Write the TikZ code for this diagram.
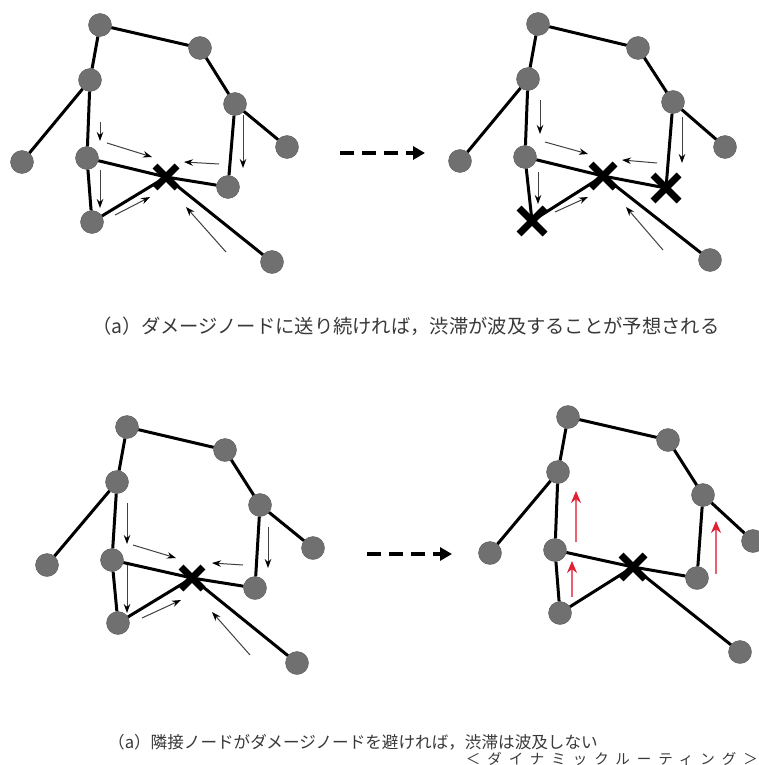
\documentclass[tikz,border=0pt]{standalone}
\usepackage{fontspec}
\newfontfamily\jp{Noto Sans CJK JP}
\newfontfamily\jpwide[LetterSpace=48]{Noto Sans CJK JP}
\usetikzlibrary{arrows.meta,calc}
\definecolor{nodegray}{RGB}{112,112,112}
\definecolor{redarrow}{RGB}{225,30,50}
\tikzset{
  nd/.style={circle,fill=nodegray,draw=nodegray!80!black,line width=0.4pt,minimum size=23pt,inner sep=0pt},
  lnk/.style={line width=3pt,black},
  flow/.style={line width=1pt,black!75,-{Stealth[length=9pt,width=6.5pt,black]}},
  redflow/.style={line width=1.5pt,redarrow!70,-{Stealth[length=12pt,width=10pt,redarrow]}},
  bigarrow/.style={line width=3.5pt,dash pattern=on 14pt off 8pt,-{Triangle[length=12pt,width=13pt]}},
  xmark/.style={line width=7pt,black},
  captext/.style={text=black!78,inner sep=0pt}
}
\newcommand{\xcross}[2]{\draw[xmark] ($(#1)+(-#2,-#2)$) -- ($(#1)+(#2,#2)$) ($(#1)+(-#2,#2)$) -- ($(#1)+(#2,-#2)$);}
\begin{document}
\begin{tikzpicture}[x=1pt,y=-1pt]
\useasboundingbox (0,0) rectangle (758,765);
% ---------- Panel 1 ----------
\coordinate (X1) at (166,177);
\node[nd] (A1) at (100,25) {};
\node[nd] (B1) at (200,48) {};
\node[nd] (C1) at (90,80) {};
\node[nd] (D1) at (235,104) {};
\node[nd] (E1) at (22,162) {};
\node[nd] (F1) at (287,147) {};
\node[nd] (G1) at (87,158) {};
\node[nd] (H1) at (228,187) {};
\node[nd] (I1) at (92,222) {};
\node[nd] (J1) at (272,262) {};
\draw[lnk] (A1)--(B1) (A1)--(C1) (B1)--(D1) (C1)--(E1) (C1)--(G1) (D1)--(F1) (D1)--(H1) (G1)--(I1) (G1)--(X1) (I1)--(X1) (H1)--(X1) (X1)--(J1);
\xcross{X1}{11}
\draw[flow] (100,122)--(100,141);
\draw[flow] (107,143)--(152,157);
\draw[flow] (219,164)--(184,162);
\draw[flow] (243,115)--(243,168);
\draw[flow] (100,170)--(100,208);
\draw[flow] (115,215)--(150,197);
\draw[flow] (226,252)--(186,207);
% ---------- Panel 2 ----------
\coordinate (X2) at (603,176);
\coordinate (H2) at (666,188);
\coordinate (I2) at (532,221);
\node[nd] (A2) at (538,24) {};
\node[nd] (B2) at (638,48) {};
\node[nd] (C2) at (528,79) {};
\node[nd] (D2) at (673,102) {};
\node[nd] (E2) at (460,161) {};
\node[nd] (F2) at (725,147) {};
\node[nd] (G2) at (525,157) {};
\node[nd] (J2) at (710,260) {};
\draw[lnk] (A2)--(B2) (A2)--(C2) (B2)--(D2) (C2)--(E2) (C2)--(G2) (D2)--(F2) (D2)--(H2) (G2)--(I2) (G2)--(X2) (I2)--(X2) (H2)--(X2) (X2)--(J2);
\xcross{X2}{12}
\xcross{H2}{13}
\xcross{I2}{13}
\draw[flow] (540,100)--(540,134);
\draw[flow] (545,142)--(588,154);
\draw[flow] (657,163)--(622,160);
\draw[flow] (682,117)--(682,163);
\draw[flow] (538,172)--(538,204);
\draw[flow] (555,212)--(588,197);
\draw[flow] (663,250)--(626,207);
% ---------- Panel 3 ----------
\coordinate (X3) at (192,578);
\node[nd] (A3) at (127,427) {};
\node[nd] (B3) at (225,450) {};
\node[nd] (C3) at (117,482) {};
\node[nd] (D3) at (260,505) {};
\node[nd] (E3) at (47,565) {};
\node[nd] (F3) at (313,548) {};
\node[nd] (G3) at (112,560) {};
\node[nd] (H3) at (255,588) {};
\node[nd] (I3) at (118,623) {};
\node[nd] (J3) at (297,663) {};
\draw[lnk] (A3)--(B3) (A3)--(C3) (B3)--(D3) (C3)--(E3) (C3)--(G3) (D3)--(F3) (D3)--(H3) (G3)--(I3) (G3)--(X3) (I3)--(X3) (H3)--(X3) (X3)--(J3);
\xcross{X3}{11}
\draw[flow] (127,503)--(127,544);
\draw[flow] (133,545)--(176,558);
\draw[flow] (243,565)--(212,563);
\draw[flow] (268,527)--(268,568);
\draw[flow] (127,565)--(127,613);
\draw[flow] (142,618)--(181,600);
\draw[flow] (250,655)--(212,612);
% ---------- Panel 4 ----------
\coordinate (X4) at (633,567);
\node[nd] (A4) at (568,417) {};
\node[nd] (B4) at (668,440) {};
\node[nd] (C4) at (558,472) {};
\node[nd] (D4) at (703,495) {};
\node[nd] (E4) at (490,553) {};
\node[nd] (F4) at (753,541) {};
\node[nd] (G4) at (555,550) {};
\node[nd] (H4) at (697,578) {};
\node[nd] (I4) at (560,613) {};
\node[nd] (J4) at (740,652) {};
\draw[lnk] (A4)--(B4) (A4)--(C4) (B4)--(D4) (C4)--(E4) (C4)--(G4) (D4)--(F4) (D4)--(H4) (G4)--(I4) (G4)--(X4) (I4)--(X4) (H4)--(X4) (X4)--(J4);
\xcross{X4}{12}
\draw[redflow] (576,542)--(576,491);
\draw[redflow] (572,597)--(572,561);
\draw[redflow] (716,574)--(716,521);
% ---------- transition arrows ----------
\coordinate (T1s) at (340,153); \coordinate (T1e) at (425,153);
\coordinate (T2s) at (367,554); \coordinate (T2e) at (452,554);
\draw[bigarrow] (T1s)--(T1e);
\draw[bigarrow] (T2s)--(T2e);
% ---------- captions ----------
\node[captext,anchor=west,font=\jp\fontsize{19.3}{22}\selectfont] (cap1) at (92,326) {（a）ダメージノードに送り続ければ，渋滞が波及することが予想される};
\node[captext,anchor=west,font=\jp\fontsize{16.6}{19}\selectfont] (cap2) at (108,742) {（a）隣接ノードがダメージノードを避ければ，渋滞は波及しない};
\node[captext,anchor=east,font=\jpwide\fontsize{14.5}{17}\selectfont] (cap3) at (758,759) {＜ダイナミックルーティング＞};
\end{tikzpicture}
\end{document}
